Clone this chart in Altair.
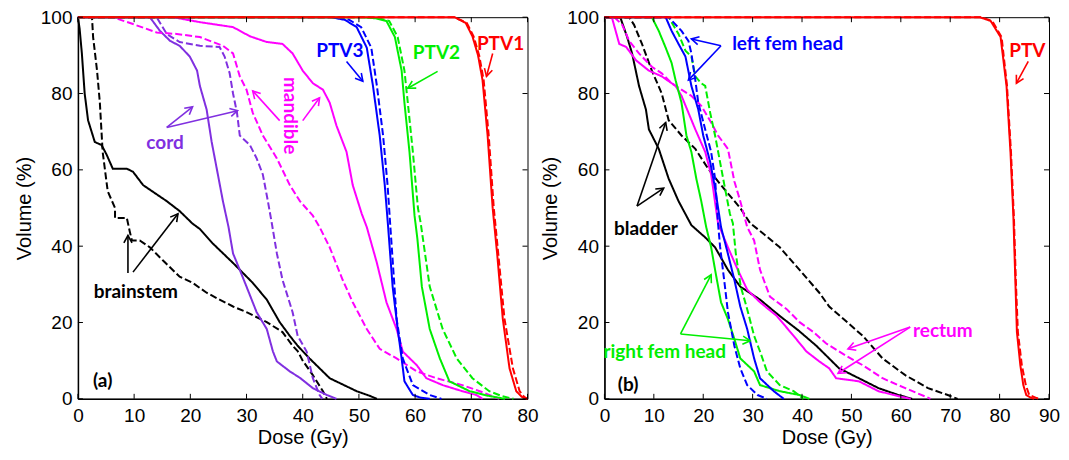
import math
import altair as alt
import pandas as pd

# ---------------- Panel (a) data: dose (Gy) / volume (%) ----------------
PTV1_S_D = [0, 67, 69, 70.2, 71.2, 72, 72.9, 73.8, 74.6, 75.6, 76.8, 78, 79, 80]
PTV1_S_V = [100, 100, 98.5, 95, 90, 83.5, 69, 50, 38, 21, 8, 2, 0.5, 0]
PTV1_D_D = [0, 67, 69.2, 70.4, 71.4, 72.2, 73.1, 74, 74.8, 75.9, 77.4, 78.6, 79.4, 80]
PTV1_D_V = [100, 100, 98.5, 95, 90, 83.5, 69, 50, 38, 21, 8, 2, 0.5, 0]

PTV2_S_D = [0, 50.5, 53, 54.9, 56.4, 57.6, 58.1, 59, 59.9, 60.4, 61.2, 62.6, 64.4, 66.1, 69.7, 73, 76]
PTV2_S_V = [100, 100, 99.7, 99, 94.8, 86, 77.6, 64.7, 48, 42, 29.4, 18.3, 10.6, 4.6, 2, 0.8, 0]
PTV2_D_D = [0, 51, 53.5, 55.4, 56.9, 58.1, 58.7, 59.6, 60.5, 61, 62.6, 64.9, 67.4, 70.2, 73.2, 75.5, 77.5]
PTV2_D_V = [100, 100, 99.7, 99, 94.8, 86, 77.6, 64.7, 50, 46, 29.4, 18.3, 10.6, 5.4, 2, 0.7, 0]

PTV3_S_D = [0, 45, 47.5, 49.6, 51.4, 52.5, 53.7, 54.6, 55.2, 56, 56.9, 57.6, 58.1, 59.6, 61, 62.6]
PTV3_S_V = [100, 100, 99.3, 97.4, 92, 82, 69, 56, 45, 29.4, 18.3, 10.6, 4.6, 1, 0.3, 0]
PTV3_D_D = [0, 45.8, 48.3, 50.4, 52.2, 53.2, 54.3, 55.1, 55.6, 56.3, 56.7, 57.8, 59.6, 62.6, 64.7]
PTV3_D_V = [100, 100, 99.3, 97.4, 92, 82, 69, 56, 45, 30, 21, 10.6, 3.6, 1, 0]

MAND_S_D = [0, 16.9, 21.7, 27.6, 30.6, 33.6, 36.4, 38.2, 40, 41.8, 43.6, 44.8, 46, 47.8, 48.9,
            50.5, 51.4, 53.2, 54.9, 56.7, 57.8, 60.3, 62, 64.9, 68.4, 70.9, 72]
MAND_S_V = [100, 100, 98.7, 97.4, 95, 93.5, 93, 90.5, 86, 82.7, 81, 77.6, 71.6, 64.7, 56,
            48.5, 45, 35.6, 25.3, 18.3, 12.4, 8.8, 5.4, 3.6, 2, 1, 0]
MAND_D_D = [0, 6.2, 9.8, 14, 17.6, 21.7, 25.8, 27.6, 28.8, 30, 31.1, 32.9, 35.4, 37.7, 39.5,
            41.8, 43, 44.8, 47.1, 48.9, 51.4, 53.7, 56.7, 60.3, 63.8, 68.4, 71.5, 75]
MAND_D_V = [100, 100, 98.2, 96, 95.6, 94.8, 92.5, 90.5, 84.5, 81, 75, 69, 63, 56, 51.8,
            48, 45, 39.7, 31.2, 25.3, 18.3, 13.1, 10.6, 7.2, 5.4, 3.6, 2, 0]

CORD_S_D = [0, 12.8, 14.6, 16.4, 18.1, 19.9, 21.2, 21.7, 22.9, 23.8, 24.9, 25.8, 26.8, 27.6,
            28.8, 30, 31.8, 33.6, 34.7, 35.4, 37.7, 39.5, 41.8, 44.3, 46]
CORD_S_V = [100, 100, 96.4, 93.8, 92.5, 89.7, 86, 82, 75.8, 67.3, 58.8, 51.8, 45, 38.1,
            33.8, 29.4, 22.7, 18.3, 12.4, 9.8, 7.2, 5.5, 2.8, 1, 0]
CORD_D_D = [0, 14, 15.8, 18.1, 21.7, 25.2, 26.1, 27, 27.6, 28.3, 28.8, 30.6, 31.8, 32.9, 33.8,
            34.5, 35.4, 36.4, 38.2, 39.1, 40.7, 41.8, 43, 43.5]
CORD_D_V = [100, 100, 95.6, 93.5, 92.5, 92.2, 89.7, 85.3, 80, 75, 69, 66.5, 63, 58.8, 51.8,
            46, 38.1, 31.2, 22.7, 16.5, 12.4, 5.4, 1, 0]

BS_S_D = [0, 0.3, 0.7, 1.2, 1.8, 3, 4.2, 5.1, 6.2, 8.7, 9.8, 11.6, 14, 15.8, 18.1, 20.4, 21.7,
          24, 27.6, 31.1, 33.6, 35.9, 37.7, 39.1, 41.2, 44.8, 49.6, 51.9, 53.2]
BS_S_V = [100, 97, 90.5, 80, 73, 67.3, 66.5, 64, 60.3, 60.3, 59.5, 56, 53.6, 51.8, 49.2, 45.9,
          44.5, 40.7, 35.6, 30.4, 26, 20.1, 16.5, 13.9, 10.6, 5.4, 2, 0.8, 0]
BS_D_D = [0, 2.5, 2.7, 3.4, 3.9, 4.4, 5.3, 6.6, 6.6, 8.7, 9.2, 9.6, 11, 12.8, 15.1, 18.1, 20.4,
          22.9, 25.2, 27.6, 30, 33.6, 36.4, 38.2, 39.1, 40, 41.8, 43.6, 44.3]
BS_D_V = [100, 100, 94.8, 86, 77.6, 64.7, 54.4, 50, 47.4, 47.4, 44, 41.5, 41.5, 39.7, 36.3, 32,
          30.4, 27.8, 26, 24.2, 22.7, 20.1, 17.5, 13.9, 12.5, 10, 6.2, 2, 0]

# ---------------- Panel (b) data ----------------
BPTV_S_D = [0, 76, 78.2, 80.2, 81.4, 82.2, 82.8, 83.2, 83.5, 84.2, 84.8, 85.4, 86.5, 87]
BPTV_S_V = [100, 100, 99, 94.8, 82, 64.7, 47.4, 30.4, 17.5, 8.8, 3.6, 1, 0.2, 0]
BPTV_D_D = [0, 76.3, 78.5, 80.4, 81.5, 82.3, 82.9, 83.3, 83.7, 84.5, 85.3, 86, 87.5, 88]
BPTV_D_V = [100, 100, 99, 94.8, 82, 64.7, 47.4, 30.4, 17.5, 8.8, 3.6, 1, 0.2, 0]

BLAD_S_D = [0, 3.2, 4.6, 5.6, 7, 8.4, 9, 11, 13, 15, 17.6, 20.4, 22.4, 25, 27.5, 31.5, 35.5,
            39.2, 42.9, 47.5, 51.5, 55.5, 59.5, 62.3]
BLAD_S_V = [100, 100, 94.8, 90.5, 82, 75.8, 70.6, 65.5, 57.7, 51.8, 45.5, 42.3, 39.7, 33.8,
            29.4, 26, 21.7, 18, 13.9, 8, 5.4, 2.8, 1, 0]
BLAD_D_D = [0, 5, 6, 7.6, 9.6, 11.6, 13, 15.6, 18.4, 21, 23.6, 27.5, 29.5, 31.5, 35.5, 39.5,
            43.5, 45.5, 52.3, 56.3, 60.9, 65.5, 69.5, 71.5]
BLAD_D_V = [100, 100, 98, 93, 86, 80, 73, 69, 65.5, 60.3, 56, 50, 46, 44, 39.7, 33.8, 27.8,
            24.2, 16.5, 10.6, 6.2, 2.8, 1, 0]

RECT_S_D = [0, 1.5, 3, 4.4, 6.4, 9, 11.6, 14.4, 15.6, 17, 18.4, 20.4, 21.6, 23, 25, 27, 28.9,
            31.5, 34.9, 38.3, 40.9, 43.5, 45.5, 46.9, 51.5, 55.5, 59.5, 62]
RECT_S_V = [100, 100, 93, 92.2, 88.7, 86, 84.5, 82, 79.4, 75, 70.6, 64.7, 58.8, 46, 39.7,
            33.8, 28.6, 25.3, 21.7, 16.5, 12.4, 9.8, 8, 5.4, 4.6, 2, 0.7, 0]
RECT_D_D = [0, 2, 3.6, 5, 7, 9.6, 11.6, 13.6, 15.6, 17.6, 19.6, 21.6, 23, 25, 26.3, 27.5, 28.9,
            30.3, 31.5, 33.5, 36.9, 39.5, 42.3, 44.9, 48.9, 52.3, 56.3, 60.9, 65.5, 66]
RECT_D_V = [100, 100, 98, 93.8, 90.5, 87, 85.3, 82.7, 81, 79.4, 76.8, 72.4, 69, 65.5, 57,
            51.8, 45, 41.5, 33.8, 26.8, 23.5, 20.1, 17.5, 14.5, 11.3, 8.8, 5.4, 2.8, 0.3, 0]

LFH_S_D = [0, 12.4, 13.6, 15, 16.4, 17.6, 19, 20, 21.4, 22.4, 23.6, 25, 26.3, 27.5, 28.9,
           30.3, 31.5, 34.3, 36.3]
LFH_S_V = [100, 100, 96.4, 93, 89.7, 82, 75.8, 69, 62.1, 55.2, 45, 38, 31.2, 24.2, 18.3,
           10.6, 5.4, 2, 0]
LFH_D_D = [0, 13, 15.6, 17, 17.6, 18.4, 19, 20.4, 21.6, 22.4, 23, 23.4, 24.4, 25, 26.3, 27.5,
           28.9, 31, 32.9]
LFH_D_V = [100, 100, 96.4, 93.8, 90.5, 83.5, 77.6, 70.6, 64.7, 57.7, 46, 40, 29.4, 22.7,
           13.9, 8, 3.6, 1, 0]

RFH_S_D = [0, 9.6, 11, 12.4, 13.6, 14.4, 15.6, 16.6, 17.6, 18.6, 19.6, 20.6, 21.6, 22.4,
           23.6, 25, 26.3, 27.5, 30.3, 31.5, 35.5, 39.5, 41.5]
RFH_S_V = [100, 100, 96.4, 92, 88, 83.5, 77.6, 69, 64.7, 57.7, 51.8, 45, 39.7, 33.8, 25.3,
           20.9, 15.7, 10.6, 7.2, 3.6, 2, 1, 0]
RFH_D_D = [0, 13, 15, 16.4, 17.6, 18.4, 19.6, 20.4, 21.4, 22.4, 23.4, 24.4, 25.4, 26, 26.6,
           27.6, 28.9, 30.3, 31.5, 32.9, 35.5, 38.3, 40.3]
RFH_D_V = [100, 100, 95.6, 91.2, 89.7, 84.5, 82.7, 82, 75, 69, 62.1, 55.2, 48.5, 46, 38,
           29.4, 23.5, 16.5, 12.4, 7.2, 3.6, 2, 0]

# ---------------- structures / colours ----------------
A_STRUCT = ["PTV1", "PTV2", "PTV3", "mandible", "cord", "brainstem"]
A_COLORS = ["#ff0000", "#00ee00", "#0000ff", "#ff00ff", "#8030e0", "#000000"]
B_STRUCT = ["PTV", "left fem head", "right fem head", "bladder", "rectum"]
B_COLORS = ["#ff0000", "#0000ff", "#00ee00", "#000000", "#ff00ff"]

# ---------------- annotations (data units) ----------------
A_TEXT = ["PTV1", "PTV2", "PTV3", "mandible", "cord", "brainstem", "(a)"]
A_TEXT_X = [75.2, 63.8, 46.6, 37.7, 15.5, 10.3, 4.4]
A_TEXT_Y = [93.0, 90.7, 91.2, 74.2, 67.0, 28.1, 4.6]
A_TEXT_ANG = [0, 0, 0, 90, 0, 0, 0]
A_TEXT_COL = ["#ff0000", "#00ee00", "#0000ff", "#ff00ff", "#8030e0", "#000000", "#000000"]

A_ARR_X1 = [73.8, 64.0, 47.8, 35.9, 40.0, 15.8, 15.8, 8.9, 9.8]
A_ARR_Y1 = [90.5, 85.8, 88.4, 72.9, 72.9, 71.1, 71.1, 33.0, 33.2]
A_ARR_X2 = [72.7, 58.7, 50.7, 31.1, 43.0, 20.4, 28.4, 8.9, 17.8]
A_ARR_Y2 = [84.5, 81.4, 83.2, 80.7, 78.9, 76.5, 75.5, 42.8, 48.5]
A_ARR_COL = ["#ff0000", "#00ee00", "#0000ff", "#ff00ff", "#ff00ff", "#8030e0", "#8030e0",
             "#000000", "#000000"]

B_TEXT = ["PTV", "left fem head", "bladder", "right fem head", "rectum", "(b)"]
B_TEXT_X = [85.6, 37.1, 8.4, 12.2, 68.5, 4.8]
B_TEXT_Y = [91.2, 93.0, 44.6, 12.4, 17.8, 3.6]
B_TEXT_ANG = [0, 0, 0, 0, 0, 0]
B_TEXT_COL = ["#ff0000", "#0000ff", "#000000", "#00ee00", "#ff00ff", "#000000"]

B_ARR_X1 = [85.8, 23.6, 23.6, 6.6, 6.6, 15.4, 15.4, 61.9, 61.9]
B_ARR_Y1 = [88.4, 92.5, 92.5, 50.5, 50.5, 17.0, 17.0, 18.8, 18.8]
B_ARR_X2 = [83.4, 17.6, 17.0, 12.4, 12.0, 21.6, 29.5, 49.3, 47.3]
B_ARR_Y2 = [82.7, 94.3, 83.5, 72.4, 55.2, 32.5, 15.2, 13.1, 6.7]
B_ARR_COL = ["#ff0000", "#0000ff", "#0000ff", "#000000", "#000000", "#00ee00", "#00ee00",
             "#ff00ff", "#ff00ff"]

PLOT_W_A, PLOT_W_B, PLOT_H = 450, 445, 382
FONT = "Liberation Sans, Arial, sans-serif"
ANN_FONT = "Lato"


def curve_rows(struct, plan, d, v):
    return [{"s": struct, "p": plan, "i": i, "x": a, "y": b} for i, (a, b) in enumerate(zip(d, v))]


def panel(curves, sdomain, srange, xmax, width, texts, arrows):
    sx = width / xmax
    sy = PLOT_H / 100.0
    xs = alt.Scale(domain=[0, xmax], nice=False, zero=False)
    ys = alt.Scale(domain=[0, 100], nice=False, zero=False)
    common = dict(ticks=False, grid=False, labelFont=FONT, labelFontSize=19, titleFont=FONT,
                  titleFontSize=20, titleFontWeight="normal", domainColor="black",
                  domainWidth=1.5, labelColor="black", titleColor="black",
                  labelOverlap=False, labelFlush=False)
    xaxis = alt.Axis(values=list(range(0, xmax + 1, 10)), title="Dose (Gy)",
                     labelPadding=8, titlePadding=2, **common)
    yaxis = alt.Axis(values=list(range(0, 101, 20)), title="Volume (%)",
                     labelPadding=6, titlePadding=6, **common)
    X = alt.X("x:Q", scale=xs, axis=xaxis)
    Y = alt.Y("y:Q", scale=ys, axis=yaxis)

    rows = []
    for c in curves:
        rows += curve_rows(*c)
    lines = alt.Chart(pd.DataFrame(rows)).mark_line(strokeWidth=2).encode(
        x=X, y=Y,
        color=alt.Color("s:N", scale=alt.Scale(domain=sdomain, range=srange), legend=None),
        strokeDash=alt.StrokeDash("p:N", scale=alt.Scale(domain=["solid", "dashed"],
                                                         range=[[1, 0], [7, 3]]), legend=None),
        detail="p:N",
        order="i:Q",
    )

    # inward ticks on all four sides
    tl_y = 5 / sy
    tl_x = 5 / sx
    trows = []
    for t in range(0, xmax + 1, 10):
        trows.append({"x": t, "y": 0, "x2": t, "y2": tl_y})
        trows.append({"x": t, "y": 100, "x2": t, "y2": 100 - tl_y})
    for t in range(0, 101, 20):
        trows.append({"x": 0, "y": t, "x2": tl_x, "y2": t})
        trows.append({"x": xmax, "y": t, "x2": xmax - tl_x, "y2": t})
    ticks = alt.Chart(pd.DataFrame(trows)).mark_rule(color="black", strokeWidth=1).encode(
        x=X, y=Y, x2="x2:Q", y2="y2:Q")

    tx, ty, tt, ta, tc = texts
    tdf = pd.DataFrame({"x": tx, "y": ty, "t": tt, "a": ta, "c": tc})
    text = alt.Chart(tdf).mark_text(font=ANN_FONT, fontWeight="bold", fontSize=19,
                                    baseline="middle", align="center").encode(
        x=X, y=Y, text="t:N", angle=alt.Angle("a:Q", scale=None),
        color=alt.Color("c:N", scale=None))

    ax1, ay1, ax2, ay2, acol = arrows
    angs = []
    for a, b, c, d in zip(ax1, ay1, ax2, ay2):
        dxp = (c - a) * sx
        dyp = -(d - b) * sy
        angs.append(math.degrees(math.atan2(dyp, dxp)) % 360)
    adf = pd.DataFrame({"x": ax1, "y": ay1, "x2": ax2, "y2": ay2, "c": acol, "ang": angs})
    shafts = alt.Chart(adf).mark_rule(strokeWidth=1.6).encode(
        x=X, y=Y, x2="x2:Q", y2="y2:Q", color=alt.Color("c:N", scale=None))
    heads = alt.Chart(adf).mark_point(shape="M-1,-0.55L0,0L-1,0.55", filled=False, size=220,
                                      strokeWidth=1.6, opacity=1).encode(
        x=alt.X("x2:Q", scale=xs, axis=xaxis), y=alt.Y("y2:Q", scale=ys, axis=yaxis),
        angle=alt.Angle("ang:Q", scale=None), color=alt.Color("c:N", scale=None))

    return alt.layer(lines, ticks, shafts, heads, text).properties(width=width, height=PLOT_H)


curves_a = [
    ("brainstem", "solid", BS_S_D, BS_S_V), ("brainstem", "dashed", BS_D_D, BS_D_V),
    ("cord", "solid", CORD_S_D, CORD_S_V), ("cord", "dashed", CORD_D_D, CORD_D_V),
    ("mandible", "solid", MAND_S_D, MAND_S_V), ("mandible", "dashed", MAND_D_D, MAND_D_V),
    ("PTV3", "solid", PTV3_S_D, PTV3_S_V), ("PTV3", "dashed", PTV3_D_D, PTV3_D_V),
    ("PTV2", "solid", PTV2_S_D, PTV2_S_V), ("PTV2", "dashed", PTV2_D_D, PTV2_D_V),
    ("PTV1", "solid", PTV1_S_D, PTV1_S_V), ("PTV1", "dashed", PTV1_D_D, PTV1_D_V),
]
curves_b = [
    ("bladder", "solid", BLAD_S_D, BLAD_S_V), ("bladder", "dashed", BLAD_D_D, BLAD_D_V),
    ("rectum", "solid", RECT_S_D, RECT_S_V), ("rectum", "dashed", RECT_D_D, RECT_D_V),
    ("right fem head", "solid", RFH_S_D, RFH_S_V), ("right fem head", "dashed", RFH_D_D, RFH_D_V),
    ("left fem head", "solid", LFH_S_D, LFH_S_V), ("left fem head", "dashed", LFH_D_D, LFH_D_V),
    ("PTV", "solid", BPTV_S_D, BPTV_S_V), ("PTV", "dashed", BPTV_D_D, BPTV_D_V),
]

pa = panel(curves_a, A_STRUCT, A_COLORS, 80, PLOT_W_A,
           (A_TEXT_X, A_TEXT_Y, A_TEXT, A_TEXT_ANG, A_TEXT_COL),
           (A_ARR_X1, A_ARR_Y1, A_ARR_X2, A_ARR_Y2, A_ARR_COL))
pb = panel(curves_b, B_STRUCT, B_COLORS, 90, PLOT_W_B,
           (B_TEXT_X, B_TEXT_Y, B_TEXT, B_TEXT_ANG, B_TEXT_COL),
           (B_ARR_X1, B_ARR_Y1, B_ARR_X2, B_ARR_Y2, B_ARR_COL))

chart = alt.hconcat(pa, pb, spacing=77, bounds="flush").resolve_scale(
    x="independent", y="independent", color="independent"
).configure_view(stroke="black", strokeWidth=1).properties(
    padding={"left": 5, "top": -1, "right": 0, "bottom": 0}, background="white"
)

chart.save("out.html", embed_options={"renderer": "svg", "actions": False})
